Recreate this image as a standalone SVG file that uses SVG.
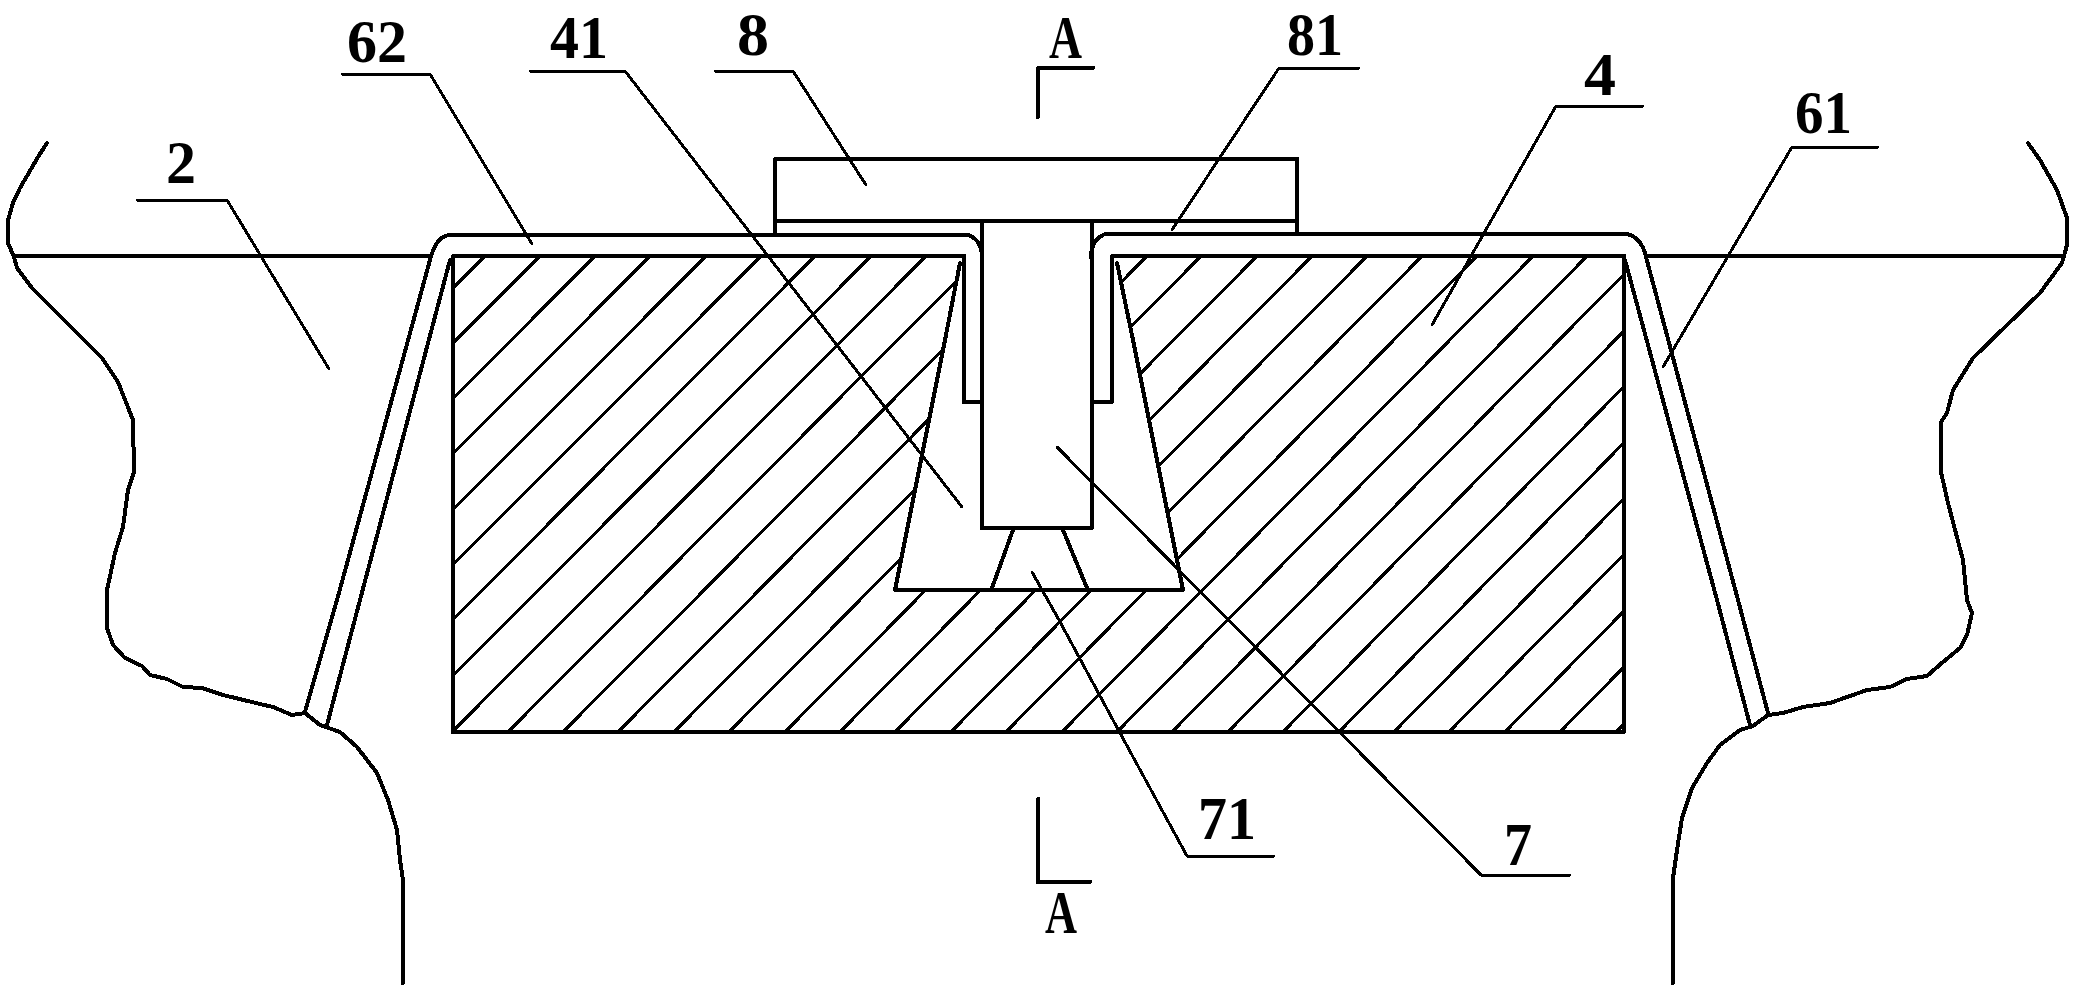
<svg xmlns="http://www.w3.org/2000/svg" width="2078" height="994" viewBox="0 0 2078 994">
<style>
.l{fill:none;stroke:#000;stroke-width:4;stroke-linejoin:round;stroke-linecap:round;shape-rendering:crispEdges}
.h{fill:none;stroke:#000;stroke-width:3;shape-rendering:crispEdges}
.t{fill:none;stroke:#000;stroke-width:3;stroke-linecap:round;stroke-linejoin:round;shape-rendering:crispEdges}
text{font-family:"Liberation Serif","Times New Roman",serif;font-weight:bold;font-size:62px;fill:#000}
</style>
<defs>
<clipPath id="hc"><path d="M453 256H964L958 283L895 590H1183L1117 263L1112 256H1624V732H453Z"/></clipPath>
</defs>
<rect width="2078" height="994" fill="#fff"/>
<g id="part-2-body-left">
<path class="l" d="M47 143L38 157L20 188L13 203L8 220L8 243L14 257L17 268L32 288L102 358L118 382L133 420L134 472L128 490L123 527L115 553L107 590L107 628L113 645L125 658L142 666L150 675L167 679L183 687L202 688L223 695L260 704L273 707L292 715L305 713L320 725L340 732L357 747L377 773L388 800L397 830L400 860L403 880V983"/>
<path class="l" d="M14 256H430"/>
</g>
<g id="part-2-body-right">
<path class="l" d="M2028 143L2040 160L2057 190L2067 218L2067 245L2062 263L2040 293L1973 358L1953 390L1947 413L1941 422L1941 472L1948 503L1963 560L1967 600L1972 613L1967 635L1960 648L1943 662L1927 676L1907 679L1890 687L1867 690L1850 696L1830 703L1803 707L1783 713L1768 715L1753 726L1740 730L1720 745L1707 763L1692 788L1682 818L1677 850L1673 878V983"/>
<path class="l" d="M1646 256H2063"/>
</g>
<g id="part-61-62-sheet">
<path class="l" d="M305 712L337 600L430 260Q436 236 450 235H968Q982 240 982 257"/>
<path class="l" d="M1091 257Q1091 240 1105 234H1627Q1642 238 1646 257L1738 600L1768 713"/>
<path class="l" d="M327 725L360 600L450 260"/>
<path class="l" d="M1625 260L1717 600L1750 725"/>
</g>
<g id="part-4-block">
<path class="h" clip-path="url(#hc)" d="M9 732l476-476M64 732l476-476M120 732l475-476M175 732l475-476M231 732l475-476M286 732l475-476M341 732l474-476M397 732l474-476M452 732l474-476M508 732l473-476M563 732l473-476M618 732l473-476M674 732l473-476M729 732l472-476M785 732l472-476M840 732l472-476M895 732l472-476M951 732l471-476M1006 732l471-476M1062 732l471-476M1117 732l470-476M1172 732l470-476M1228 732l470-476M1283 732l470-476M1339 732l469-476M1394 732l469-476M1449 732l469-476M1505 732l468-476M1560 732l468-476M1616 732l468-476"/>
<path class="l" d="M453 732V256H964V402H982"/>
<path class="l" d="M1092 402H1112V256H1624V732H453"/>
<path id="part-41-dovetail" class="l" d="M960 263L945 340L895 590H1183L1133 340L1117 263"/>
</g>
<g id="part-7-pin">
<path class="l" d="M982 221V528H1092V221"/>
</g>
<g id="part-71-tip">
<path class="l" d="M1013 530L992 588"/>
<path class="l" d="M1063 530L1087 588"/>
</g>
<g id="part-8-plate">
<path class="l" d="M775 234V159H1297V234"/>
<path class="l" d="M775 221H1297"/>
</g>
<g id="section-marks">
<path class="l" d="M1038 117V68H1093"/>
<path class="l" d="M1038 799V882H1090"/>
</g>
<g id="connectors">
<path class="t" d="M137 200H227L329 369"/>
<path class="t" d="M342 74H430L532 244"/>
<path class="t" d="M530 71H625L962 507"/>
<path class="t" d="M715 71H793L866 185"/>
<path class="t" d="M1359 68H1279L1172 230"/>
<path class="t" d="M1643 106H1556L1432 325"/>
<path class="t" d="M1878 147H1792L1663 367"/>
<path class="t" d="M1057 447L1481 875H1570"/>
<path class="t" d="M1032 572L1059 620L1120 733L1187 856H1274"/>
</g>
<g id="labels">
<text x="347" y="62" textLength="60" lengthAdjust="spacingAndGlyphs">62</text>
<text x="550" y="58" textLength="58" lengthAdjust="spacingAndGlyphs">41</text>
<text x="737" y="55" textLength="32" lengthAdjust="spacingAndGlyphs">8</text>
<text x="1049" y="58" textLength="33" lengthAdjust="spacingAndGlyphs">A</text>
<text x="1287" y="55" textLength="56" lengthAdjust="spacingAndGlyphs">81</text>
<text x="1584" y="95" textLength="32" lengthAdjust="spacingAndGlyphs">4</text>
<text x="1795" y="133" textLength="57" lengthAdjust="spacingAndGlyphs">61</text>
<text x="166" y="183" textLength="30" lengthAdjust="spacingAndGlyphs">2</text>
<text x="1504" y="865" textLength="28" lengthAdjust="spacingAndGlyphs">7</text>
<text x="1198" y="839" textLength="58" lengthAdjust="spacingAndGlyphs">71</text>
<text x="1045" y="933" textLength="32" lengthAdjust="spacingAndGlyphs">A</text>
</g>
</svg>
